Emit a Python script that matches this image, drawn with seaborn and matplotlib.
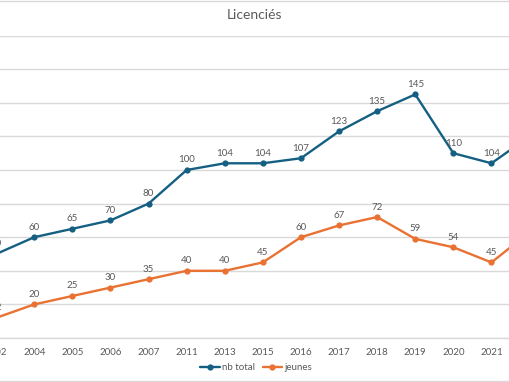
import numpy as np
import pandas as pd
import seaborn as sns
import matplotlib.pyplot as plt
from matplotlib.lines import Line2D

annees = ['2002', '2004', '2005', '2006', '2007', '2011', '2013', '2015',
          '2016', '2017', '2018', '2019', '2020', '2021', '2022']
nb_total = [50, 60, 65, 70, 80, 100, 104, 104, 107, 123, 135, 145, 110, 104, 120]
jeunes = [12, 20, 25, 30, 35, 40, 40, 45, 60, 67, 72, 59, 54, 45, 63]

series = ['nb total', 'jeunes']
couleurs = ['#156082', '#E97132']
gris = '#595959'
grille = '#d9d9d9'

sns.set_theme(style='white')
plt.rcParams['font.family'] = ['Lato', 'DejaVu Sans']

data = pd.DataFrame({
    'annee': annees * 2,
    'valeur': nb_total + jeunes,
    'serie': ['nb total'] * len(annees) + ['jeunes'] * len(annees),
})

W, H = 510, 382
fig = plt.figure(figsize=(W / 100, H / 100), dpi=100)
# plot area of the original chart is wider than the visible crop
x0, x1 = -22.9, 548.6
y_top, y_bot = 35.6, 338.0
ax = fig.add_axes([x0 / W, 1 - y_bot / H, (x1 - x0) / W, (y_bot - y_top) / H])

sns.lineplot(data=data, x='annee', y='valeur', hue='serie', hue_order=series,
             palette=couleurs, marker='o', markersize=4.5, markeredgewidth=0,
             linewidth=1.7, sort=False, legend=False, ax=ax)

ax.set_xlim(-0.5, len(annees) - 0.5)
ax.set_ylim(0, 180)
ax.set_yticks(np.arange(0, 181, 20))
ax.set_yticklabels([])
ax.tick_params(axis='y', length=0)
ax.tick_params(axis='x', length=0, labelsize=7, labelcolor=gris, pad=7)
ax.set_xticks(range(len(annees)))
ax.set_xticklabels(annees)
ax.grid(axis='y', color=grille, linewidth=1)
ax.set_xlabel('')
ax.set_ylabel('')
for s in ['top', 'left', 'right']:
    ax.spines[s].set_visible(False)
ax.spines['bottom'].set_color(grille)
ax.spines['bottom'].set_linewidth(1)

for vals in [nb_total, jeunes]:
    for i, v in enumerate(vals):
        ax.annotate(str(v), (i, v), xytext=(0, 10), textcoords='offset pixels',
                    ha='center', va='center', fontsize=7, color=gris)

fig.text(255 / W, 1 - 15 / H, 'Licenciés', ha='center', va='center',
         fontsize=10, color=gris)

handles = [Line2D([], [], color=c, marker='o', markersize=4.5, markeredgewidth=0,
                  linewidth=1.7) for c in couleurs]
fig.legend(handles, series, loc='center', bbox_to_anchor=(256 / W, 1 - 368 / H),
           ncol=2, frameon=False, fontsize=7, labelcolor=gris, handlelength=2.0,
           handletextpad=0.2, columnspacing=0.8)

fig.add_artist(Line2D([0, 1], [1 - 1 / H, 1 - 1 / H], color=grille, linewidth=1))
fig.add_artist(Line2D([0, 1], [1 / H, 1 / H], color=grille, linewidth=1))

fig.savefig('out.png', dpi=100)
